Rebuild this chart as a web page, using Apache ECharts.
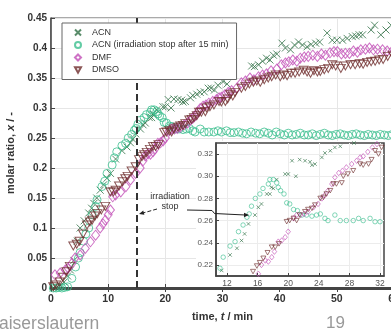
<!DOCTYPE html>
<html>
<head>
<meta charset="utf-8">
<script src="https://cdn.jsdelivr.net/npm/echarts@6/dist/echarts.min.js"></script>
<style>
  html, body { margin: 0; padding: 0; background: #fff; }
  #chart { width: 391px; height: 331px; }
</style>
</head>
<body>
<div id="chart"></div>
<script>
// ACN, continuous irradiation
const acnTime = [0.4, 1.0, 1.7, 2.3, 2.9, 3.4, 4.0, 4.6, 5.1, 5.8, 6.6, 7.1, 7.5, 8.0, 8.6, 9.2, 9.8, 10.4, 11.3, 12.4,
  13.3, 13.9, 14.3, 14.8, 15.65, 16.1, 16.5, 17.2, 17.6, 17.8, 18.05, 18.5, 19.6, 20.0, 20.5, 21.0, 21.5, 22.2, 22.85, 23.1,
  23.5, 24.4, 24.8, 25.5, 26.1, 26.8, 27.5, 28.0, 28.6, 29.2, 30.1, 30.8, 35.1, 35.6, 36.3, 37.0, 37.7, 38.3, 38.9, 39.5,
  40.4, 41.0, 41.9, 42.6, 43.3, 44.0, 44.8, 45.5, 46.3, 47.0, 48.3, 49.2, 50.0, 51.0, 51.8, 52.7, 53.3, 53.9, 54.5, 56.0,
  56.6, 57.7, 58.6, 59.5]
const acnRatio = [0.000, 0.001, 0.004, 0.010, 0.020, 0.030, 0.046, 0.078, 0.100, 0.112, 0.125, 0.133, 0.141, 0.150, 0.163, 0.172, 0.183, 0.191, 0.215, 0.229,
  0.235, 0.242, 0.248, 0.257, 0.265, 0.272, 0.275, 0.284, 0.284, 0.290, 0.289, 0.297, 0.302, 0.302, 0.314, 0.300, 0.315, 0.314, 0.313, 0.310,
  0.311, 0.317, 0.321, 0.323, 0.326, 0.327, 0.333, 0.333, 0.330, 0.338, 0.344, 0.340, 0.370, 0.369, 0.372, 0.378, 0.383, 0.380, 0.388, 0.390,
  0.408, 0.400, 0.397, 0.405, 0.410, 0.405, 0.402, 0.406, 0.408, 0.410, 0.425, 0.413, 0.413, 0.413, 0.416, 0.419, 0.420, 0.422, 0.422, 0.430,
  0.438, 0.422, 0.430, 0.438]

// ACN, irradiation stopped after 15 min
const stopTime = [0.4, 0.9, 1.4, 1.9, 2.4, 2.9, 3.65, 4.3, 4.8, 5.1, 5.7, 6.1, 6.6, 7.2, 7.8, 8.05, 8.9, 9.4, 9.8, 10.7,
  11.08, 11.5, 12.4, 13.05, 13.5, 14.1, 14.6, 14.9, 15.2, 15.7, 16.3, 16.7, 17.4, 17.6, 18.05, 18.5, 18.7, 19.0, 19.45, 19.8,
  20.2, 20.7, 21.2, 21.8, 22.4, 23.1, 23.7, 24.2, 24.8, 25.2, 26.1, 26.8, 27.6, 28.5, 29.2, 29.8, 30.7, 31.35, 32.0, 32.8,
  33.5, 34.2, 35.0, 35.8, 36.5, 37.3, 38.0, 38.7, 39.4, 40.1, 40.8, 41.5, 42.2, 42.9, 43.6, 44.3, 45.0, 45.7, 46.4, 47.1,
  47.8, 48.5, 49.2, 49.9, 50.6, 51.3, 52.0, 52.7, 53.4, 54.1, 54.8, 55.5, 56.2, 56.9, 57.6, 58.3, 59.0, 59.7]
const stopRatio = [0.000, 0.000, 0.001, 0.000, 0.001, 0.002, 0.016, 0.035, 0.050, 0.059, 0.078, 0.090, 0.100, 0.122, 0.136, 0.147, 0.169, 0.178, 0.191, 0.205,
  0.217, 0.227, 0.237, 0.241, 0.250, 0.256, 0.263, 0.266, 0.273, 0.280, 0.284, 0.289, 0.293, 0.297, 0.297, 0.294, 0.290, 0.287, 0.284, 0.276,
  0.275, 0.270, 0.269, 0.265, 0.265, 0.264, 0.265, 0.266, 0.262, 0.260, 0.265, 0.260, 0.260, 0.260, 0.262, 0.260, 0.262, 0.259, 0.259, 0.260,
  0.258, 0.257, 0.260, 0.258, 0.257, 0.260, 0.258, 0.255, 0.260, 0.257, 0.255, 0.258, 0.255, 0.256, 0.258, 0.255, 0.255, 0.257, 0.254, 0.256,
  0.258, 0.255, 0.254, 0.256, 0.257, 0.255, 0.254, 0.256, 0.257, 0.255, 0.254, 0.256, 0.255, 0.254, 0.256, 0.255, 0.254, 0.256]

// DMF
const dmfTime = [0.7, 1.6, 2.5, 3.0, 3.65, 4.2, 5.1, 6.0, 6.9, 7.8, 8.6, 9.1, 9.5, 10.0, 10.4, 10.8, 11.3, 12.2, 13.1, 13.9,
  14.8, 15.6, 16.1, 16.5, 17.0, 17.4, 17.85, 18.2, 18.7, 19.15, 19.6, 20.0, 20.7, 21.1, 21.6, 22.1, 22.6, 23.3, 23.9, 24.4,
  24.8, 25.2, 25.7, 26.1, 26.6, 27.1, 27.6, 28.3, 28.95, 29.4, 29.8, 30.4, 31.0, 31.6, 32.5, 33.3, 34.0, 34.8, 35.5, 36.3,
  37.0, 37.7, 38.5, 39.5, 40.3, 41.0, 41.6, 42.3, 43.0, 43.6, 44.3, 45.0, 45.8, 46.6, 47.3, 48.0, 48.8, 49.5, 50.1, 50.8,
  51.5, 52.2, 52.9, 53.6, 54.2, 55.0, 55.7, 56.4, 57.1, 58.0, 58.8, 59.6]
const dmfRatio = [0.022, 0.025, 0.030, 0.033, 0.041, 0.050, 0.055, 0.066, 0.077, 0.088, 0.100, 0.107, 0.113, 0.122, 0.130, 0.152, 0.155, 0.160, 0.169, 0.180,
  0.191, 0.200, 0.212, 0.220, 0.224, 0.223, 0.227, 0.232, 0.241, 0.242, 0.245, 0.250, 0.262, 0.265, 0.265, 0.266, 0.268, 0.272, 0.275, 0.280,
  0.283, 0.287, 0.293, 0.299, 0.303, 0.305, 0.308, 0.311, 0.314, 0.317, 0.318, 0.322, 0.326, 0.329, 0.333, 0.342, 0.345, 0.350, 0.347, 0.352,
  0.355, 0.357, 0.362, 0.365, 0.372, 0.375, 0.377, 0.380, 0.378, 0.383, 0.385, 0.386, 0.388, 0.386, 0.390, 0.388, 0.392, 0.394, 0.394, 0.390,
  0.391, 0.391, 0.395, 0.393, 0.397, 0.398, 0.400, 0.397, 0.398, 0.397, 0.395, 0.394]

// DMSO
const dmsoTime = [0.4, 0.9, 1.5, 2.1, 2.7, 3.3, 3.9, 4.5, 5.0, 5.6, 6.3, 6.8, 7.2, 7.7, 8.1, 8.8, 9.5, 10.4, 10.9, 11.3,
  11.9, 12.5, 13.0, 13.4, 14.1, 14.8, 15.4, 15.9, 16.3, 16.75, 17.3, 17.85, 18.3, 18.8, 19.8, 20.2, 20.7, 21.1, 21.5, 22.2,
  22.6, 23.1, 23.5, 24.2, 24.6, 25.0, 25.5, 25.9, 26.3, 27.0, 27.2, 27.8, 28.5, 29.4, 29.8, 30.5, 30.9, 31.35, 31.8, 32.2,
  33.3, 34.0, 34.7, 35.4, 36.0, 36.6, 37.3, 38.0, 38.6, 39.3, 40.1, 40.7, 41.3, 42.0, 42.7, 43.4, 44.2, 44.8, 45.4, 46.0,
  46.6, 47.1, 47.8, 48.5, 49.2, 49.8, 50.7, 51.5, 52.4, 53.2, 54.0, 54.6, 55.3, 56.0, 56.7, 57.4, 58.1, 58.9, 59.8]
const dmsoRatio = [0.002, 0.005, 0.010, 0.018, 0.027, 0.036, 0.070, 0.073, 0.078, 0.090, 0.105, 0.110, 0.113, 0.120, 0.124, 0.130, 0.136, 0.160, 0.160, 0.163,
  0.170, 0.177, 0.182, 0.186, 0.195, 0.202, 0.214, 0.219, 0.222, 0.226, 0.231, 0.236, 0.236, 0.239, 0.259, 0.260, 0.262, 0.260, 0.265, 0.268,
  0.270, 0.271, 0.274, 0.280, 0.281, 0.284, 0.287, 0.293, 0.293, 0.294, 0.300, 0.302, 0.305, 0.311, 0.310, 0.311, 0.315, 0.323, 0.320, 0.326,
  0.333, 0.336, 0.340, 0.343, 0.345, 0.343, 0.347, 0.350, 0.352, 0.355, 0.352, 0.355, 0.354, 0.358, 0.358, 0.360, 0.363, 0.360, 0.358, 0.362,
  0.360, 0.361, 0.364, 0.366, 0.372, 0.370, 0.366, 0.370, 0.372, 0.372, 0.374, 0.373, 0.376, 0.377, 0.378, 0.380, 0.381, 0.386, 0.388]

const insetXTicks = [12, 16, 20, 24, 28, 32]
const insetYTicks = [0.22, 0.24, 0.26, 0.28, 0.30, 0.32]

const FONT = 'Liberation Sans, Arial, sans-serif'
const AXIS = '#444'
const GRID = '#e6e6e6'

const xMark = 'path://M0,0L10,10M10,0L0,10'
const triDown = 'path://M0,0L10,0L5,9Z'

const zip = (t, v) => t.map((x, i) => [x, v[i]])

const chart = echarts.init(document.getElementById('chart'))

const makeSeries = (name, data, symbol, sizeMain, sizeInset, color) => [
  {
    name, type: 'scatter', xAxisIndex: 0, yAxisIndex: 0, data, symbol,
    symbolSize: sizeMain, z: 2,
    itemStyle: { color: 'rgba(0,0,0,0)', borderColor: color, borderWidth: 1 }
  },
  {
    name, type: 'scatter', xAxisIndex: 1, yAxisIndex: 1, data, symbol,
    symbolSize: sizeInset, z: 21, clip: true,
    itemStyle: { color: 'rgba(0,0,0,0)', borderColor: color, borderWidth: 0.8 }
  }
]

const acn = makeSeries('ACN', zip(acnTime, acnRatio), xMark, 7, 3.5, '#2f6f45')
const stop = makeSeries('ACN (irradiation stop after 15 min)', zip(stopTime, stopRatio), 'circle', 8, 4.5, '#3cbf8f')
const dmf = makeSeries('DMF', zip(dmfTime, dmfRatio), 'diamond', [8, 10], [4.5, 5.5], '#c24fb6')
const dmso = makeSeries('DMSO', zip(dmsoTime, dmsoRatio), triDown, [9, 8], [5, 4.5], '#6e2c2c')

// irradiation stop in main plot
stop[0].markLine = {
  silent: true, symbol: 'none', animation: false, label: { show: false },
  lineStyle: { color: '#333', width: 2, type: [7, 4] },
  data: [{ xAxis: 15 }]
}
// irradiation stop + delay in inset
stop[1].markLine = {
  silent: true, symbol: 'none', animation: false, label: { show: false },
  data: [
    { xAxis: 15.2, lineStyle: { color: '#333', width: 2, type: [6, 3] } },
    { xAxis: 18.4, lineStyle: { color: '#222', width: 1.5, type: [1.5, 1.5] } },
    [
      {
        coord: [15.2, 0.3013], symbol: 'arrow', symbolSize: 5,
        lineStyle: { color: '#222', width: 1, type: 'solid' },
        label: {
          show: true, position: 'insideMiddleTop', distance: 1,
          formatter: '{t|t}{d|delay}',
          rich: {
            t: { fontSize: 14, fontStyle: 'italic', fontFamily: 'Liberation Serif, serif', color: '#222' },
            d: { fontSize: 6, fontFamily: FONT, color: '#222', verticalAlign: 'bottom', padding: [6, 0, 0, 0] }
          }
        }
      },
      { coord: [18.4, 0.3013], symbol: 'arrow', symbolSize: 5 }
    ]
  ]
}

const arrowHead = (x1, y1, x2, y2, z) => {
  const dx = x2 - x1, dy = y2 - y1, len = Math.hypot(dx, dy)
  const ux = dx / len, uy = dy / len, L = 5, W = 2.2
  return {
    type: 'polygon', z, silent: true,
    shape: { points: [[x2, y2], [x2 - ux * L - uy * W, y2 - uy * L + ux * W], [x2 - ux * L + uy * W, y2 - uy * L - ux * W]] },
    style: { fill: '#222' }
  }
}

const option = {
  animation: false,
  textStyle: { fontFamily: FONT },
  grid: [
    {
      left: 51, right: -3, top: 18, bottom: 43, outerBoundsMode: 'none', containLabel: false,
      show: true, borderColor: '#555', borderWidth: 1, backgroundColor: 'transparent'
    },
    {
      left: 216, top: 143, width: 168, height: 133, outerBoundsMode: 'none', containLabel: false,
      show: true, z: 16, borderColor: AXIS, borderWidth: 1.5, backgroundColor: '#fff'
    }
  ],
  legend: {
    data: ['ACN', 'ACN (irradiation stop after 15 min)', 'DMF', 'DMSO'],
    orient: 'vertical', left: 62, top: 23,
    padding: [4, 8, 4, 12], itemGap: 1.5, itemWidth: 6, itemHeight: 6,
    backgroundColor: '#fff', borderColor: '#666', borderWidth: 1, borderRadius: 0,
    textStyle: { fontSize: 9, color: '#333', fontFamily: FONT, lineHeight: 11, padding: [0, 0, 0, 6] },
    z: 8
  },
  xAxis: [
    {
      gridIndex: 0, type: 'value', min: 0, max: 60, interval: 10,
      name: '{b|time, }{i|t}{b| / min}', nameLocation: 'middle', nameGap: 23,
      nameTextStyle: {
        rich: {
          b: { fontSize: 11, fontWeight: 'bold', color: '#333', fontFamily: FONT },
          i: { fontSize: 11, fontWeight: 'bold', fontStyle: 'italic', color: '#333', fontFamily: FONT }
        }
      },
      axisLine: { show: true, onZero: false, lineStyle: { color: AXIS, width: 3 } },
      axisTick: { show: true, inside: true, length: 4, lineStyle: { color: AXIS } },
      axisLabel: { fontSize: 10.5, fontWeight: 'bold', color: '#333', margin: 6 },
      splitLine: { show: true, lineStyle: { color: GRID } }
    },
    {
      gridIndex: 1, type: 'value', min: 10.56, max: 32.52, z: 20,
      axisLine: { show: true, onZero: false, lineStyle: { color: AXIS, width: 1.5 } },
      axisTick: { show: true, inside: true, length: 3, customValues: insetXTicks, lineStyle: { color: AXIS } },
      axisLabel: { customValues: insetXTicks, fontSize: 8.5, color: '#555', margin: 3 },
      splitLine: { show: true, lineStyle: { color: '#ececec' } }
    },
    {
      gridIndex: 0, type: 'value', position: 'top', min: 0, max: 60, interval: 10,
      axisLine: { show: false }, axisLabel: { show: false }, splitLine: { show: false },
      axisTick: { show: true, inside: true, length: 4, lineStyle: { color: AXIS } }
    }
  ],
  yAxis: [
    {
      gridIndex: 0, type: 'value', min: 0, max: 0.45, interval: 0.05,
      name: '{b|molar ratio, }{i|x}{b| / -}', nameLocation: 'middle', nameGap: 27,
      nameTextStyle: {
        rich: {
          b: { fontSize: 11, fontWeight: 'bold', color: '#333', fontFamily: FONT },
          i: { fontSize: 11, fontWeight: 'bold', fontStyle: 'italic', color: '#333', fontFamily: FONT }
        }
      },
      axisLine: { show: true, onZero: false, lineStyle: { color: AXIS, width: 1.5 } },
      axisTick: { show: true, inside: true, length: 4, lineStyle: { color: AXIS } },
      axisLabel: { fontSize: 10, fontWeight: 'bold', color: '#333', margin: 4 },
      splitLine: { show: true, lineStyle: { color: GRID } }
    },
    {
      gridIndex: 1, type: 'value', min: 0.21, max: 0.33, z: 20,
      axisLine: { show: true, onZero: false, lineStyle: { color: AXIS, width: 1.5 } },
      axisTick: { show: true, inside: true, length: 3, customValues: insetYTicks, lineStyle: { color: AXIS } },
      axisLabel: { customValues: insetYTicks, fontSize: 8, color: '#555', margin: 3, formatter: v => v.toFixed(2) },
      splitLine: { show: true, lineStyle: { color: '#ececec' } }
    }
  ],
  graphic: [
    { type: 'rect', z: 10, silent: true, shape: { x: 196, y: 141, width: 195, height: 146 }, style: { fill: '#fff' } },
    {
      type: 'text', z: 12, silent: true,
      style: { x: 170, y: 192, text: 'irradiation\nstop', fontSize: 9, lineHeight: 10, fill: '#333', align: 'center', fontFamily: FONT }
    },
    {
      type: 'line', z: 12, silent: true, shape: { x1: 157, y1: 209, x2: 142, y2: 213.3 },
      style: { stroke: '#222', lineWidth: 1, lineDash: [4, 2] }
    },
    arrowHead(157, 209, 139, 214, 12),
    {
      type: 'polyline', z: 30, silent: true,
      shape: { points: [[187, 210], [212, 210.5], [214.5, 213.5], [245, 215]] },
      style: { stroke: '#222', lineWidth: 1, fill: null }
    },
    arrowHead(214.5, 214.5, 249, 215, 30),
    { type: 'text', z: 12, left: -1, top: 315, silent: true, style: { text: 'aiserslautern', fontSize: 17.5, fill: '#999', fontFamily: FONT } },
    { type: 'text', z: 12, left: 326, top: 315, silent: true, style: { text: '19', fontSize: 17, fill: '#999', fontFamily: FONT } }
  ],
  series: [...acn, ...stop, ...dmf, ...dmso]
}

chart.setOption(option)
window.addEventListener('resize', () => chart.resize())
</script>
</body>
</html>
